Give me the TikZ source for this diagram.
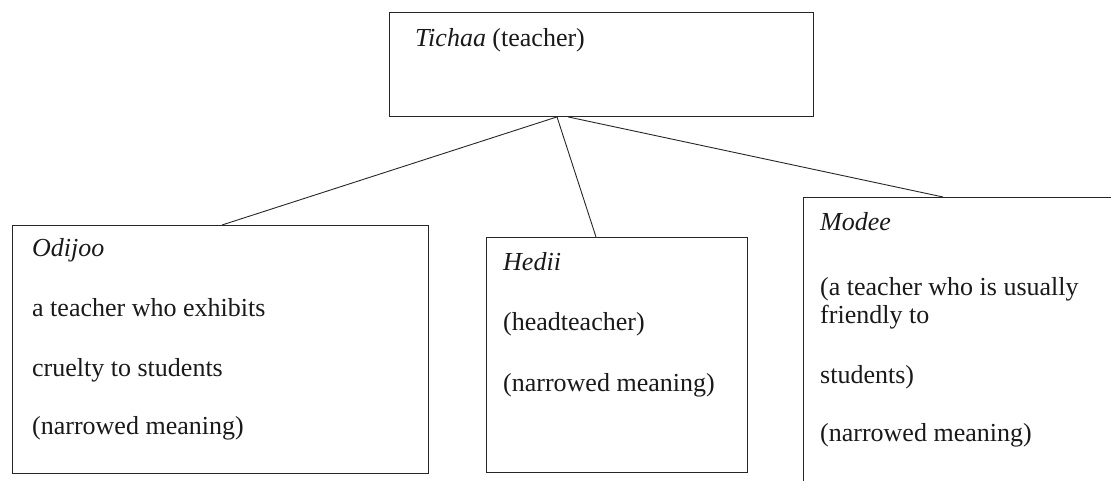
\documentclass[tikz,border=0pt]{standalone}
\usepackage{fontspec}
\setmainfont{Liberation Serif}
\usetikzlibrary{positioning}

\begin{document}
\begin{tikzpicture}[x=1pt, y=-1pt,
	box/.style={draw=black!85, line width=0.9pt, anchor=north west, inner sep=0pt},
	txt/.style={anchor=base west, inner sep=0pt, text=black!90, font=\fontsize{26}{30}\selectfont},
	link/.style={draw=black!85, line width=0.9pt}]
	\useasboundingbox (0,0) rectangle (1111,481);
	\clip (0,0) rectangle (1111,481);
	% boxes
	\node[box, minimum width=424pt, minimum height=104pt] (tichaa) at (389,12) {};
	\node[box, minimum width=416pt, minimum height=248pt] (odijoo) at (12,225) {};
	\node[box, minimum width=261pt, minimum height=235pt] (hedii) at (486,237) {};
	\node[box, minimum width=330pt, minimum height=300pt] (modee) at (803,197) {};
	% texts
	\node[txt] (t1) at (415,47) {\textit{Tichaa} (teacher)};
	\node[txt] (o1) at (32,257) {\textit{Odijoo}};
	\node[txt] (o2) at (32,316) {a teacher who exhibits};
	\node[txt] (o3) at (32,376) {cruelty to students};
	\node[txt] (o4) at (32,434) {(narrowed meaning)};
	\node[txt] (h1) at (503,270) {\textit{Hedii}};
	\node[txt] (h2) at (503,330) {(headteacher)};
	\node[txt] (h3) at (503,391) {(narrowed meaning)};
	\node[txt] (m1) at (820,230) {\textit{Modee}};
	\node[txt] (m2) at (820,295) {(a teacher who is usually};
	\node[txt] (m3) at (820,323) {friendly to};
	\node[txt] (m4) at (820,383) {students)};
	\node[txt] (m5) at (820,441) {(narrowed meaning)};
	% connectors
	\draw[link] ([xshift=168pt]tichaa.south west) -- ([xshift=210pt]odijoo.north west);
	\draw[link] ([xshift=168pt]tichaa.south west) -- ([xshift=110pt]hedii.north west);
	\draw[link] ([xshift=179pt]tichaa.south west) -- ([xshift=140pt]modee.north west);
\end{tikzpicture}
\end{document}
